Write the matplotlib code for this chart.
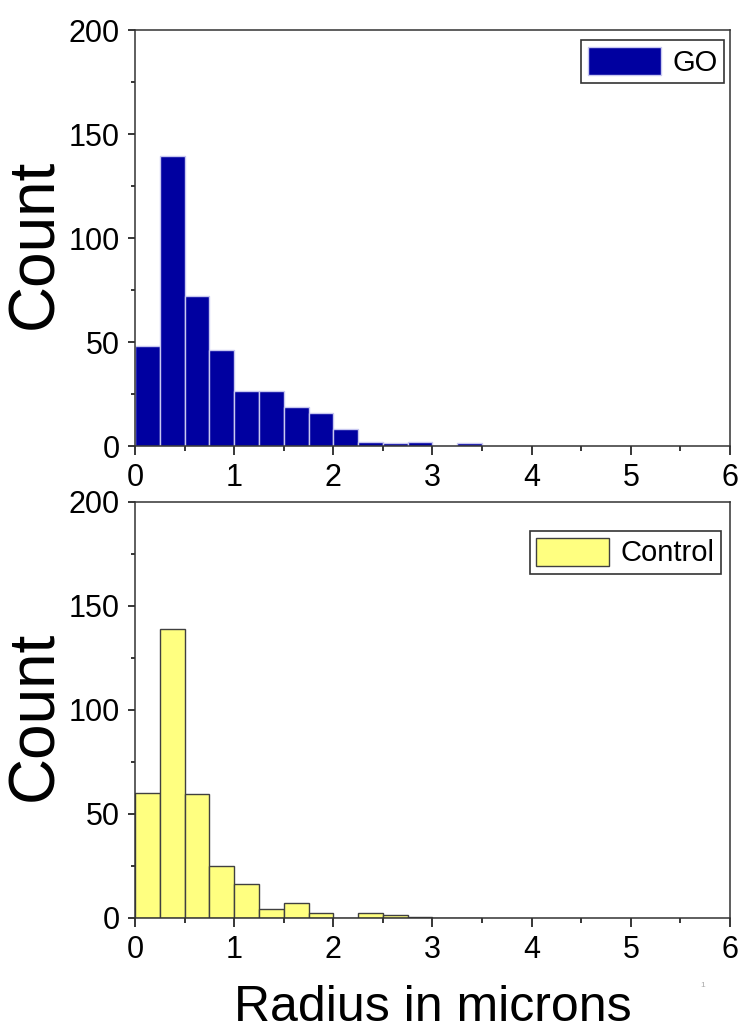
import numpy as np
import matplotlib.pyplot as plt
from matplotlib.ticker import MultipleLocator

plt.rcParams['font.family'] = ['Liberation Sans', 'DejaVu Sans']

# histogram bins, width 0.25 micron
bin_edges = np.arange(0, 3.75, 0.25)
go_counts = [48, 139.5, 72, 46, 26.5, 26.5, 19, 16, 8.3, 2, 1.3, 2, 0, 1.3]
control_counts = [60, 139, 59.5, 25, 16.5, 4.3, 7.4, 2.4, 0, 2.4, 1.6, 0.6, 0, 0]

fig = plt.figure(figsize=(7.4, 10.32), dpi=100)
ax1 = fig.add_axes([0.1824, 0.5678, 0.804, 0.4031])
ax2 = fig.add_axes([0.1824, 0.1105, 0.804, 0.4031])

panels = [
    (ax1, go_counts, '#0000A0', '#C8C8F0', 'GO', (0.99, 0.975)),
    (ax2, control_counts, '#FFFF80', '#404040', 'Control', (0.985, 0.93)),
]

for ax, counts, fc, ec, name, anchor in panels:
    ax.bar(bin_edges[:-1], counts, width=0.25, align='edge',
           color=fc, edgecolor=ec, linewidth=1.0, label=name)
    ax.set_xlim(0, 6)
    ax.set_ylim(0, 200)
    ax.xaxis.set_major_locator(MultipleLocator(1))
    ax.xaxis.set_minor_locator(MultipleLocator(0.5))
    ax.yaxis.set_major_locator(MultipleLocator(50))
    ax.yaxis.set_minor_locator(MultipleLocator(25))
    ax.tick_params(axis='x', which='major', direction='out', length=6.5,
                   width=1.1, labelsize=22, pad=6)
    ax.tick_params(axis='x', which='minor', direction='out', length=3.5, width=1.1)
    ax.tick_params(axis='y', which='major', direction='out', length=5,
                   width=1.1, labelsize=22, pad=6)
    ax.tick_params(axis='y', which='minor', direction='out', length=3, width=1.1)
    for s in ax.spines.values():
        s.set_linewidth(1.1)
        s.set_color('#333333')
    ax.set_ylabel('Count', fontsize=46)
    ax.yaxis.set_label_coords(-0.118, 0.485)
    leg = ax.legend(loc='upper right', bbox_to_anchor=anchor, fontsize=21,
                    frameon=True, fancybox=False, edgecolor='#333333',
                    framealpha=1, handlelength=2.5, handleheight=1.1,
                    handletextpad=0.4, borderpad=0.22, borderaxespad=0.0)
    leg.get_frame().set_linewidth(1.2)

ax2.set_xlabel('Radius in microns', fontsize=36, labelpad=14)

fig.text(0.95, 0.045, '1', fontsize=6, color='#aaaaaa', ha='center', va='center')

fig.savefig('out.png', dpi=100)
